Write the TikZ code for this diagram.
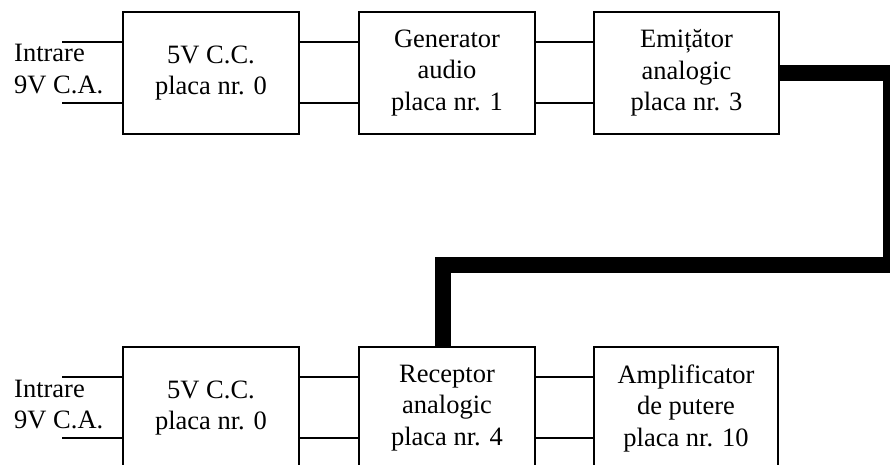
\documentclass[tikz,border=0pt]{standalone}
\usepackage{fontspec}
\setmainfont{Liberation Serif}
\begin{document}
\begin{tikzpicture}[x=1pt,y=-1pt,
  blk/.style={draw, line width=2.6pt, inner sep=0pt, outer sep=0pt, minimum height=122pt, align=center,
    font=\fontsize{26.5pt}{31.5pt}\selectfont},
  wire/.style={line width=1.8pt},
  lbl/.style={anchor=base west, inner sep=0pt, font=\fontsize{26.5pt}{31.5pt}\selectfont},
  link/.style={line width=16pt, line join=miter}]
\useasboundingbox (0,0) rectangle (890,465);
% top row
\node[blk, minimum width=176pt] (b1) at (211,73) {5V C.C.\\placa nr. 0};
\node[blk, minimum width=176pt] (b2) at (447,73) {Generator\\audio\\placa nr. 1};
\node[blk, minimum width=185pt] (b3) at (686.5,73) {Emițător\\analogic\\placa nr. 3};
% bottom row
\node[blk, minimum width=176pt] (b4) at (211,408) {5V C.C.\\placa nr. 0};
\node[blk, minimum width=176pt] (b5) at (447,408) {Receptor\\analogic\\placa nr. 4};
\node[blk, minimum width=184pt] (b6) at (686,408) {Amplificator\\de putere\\placa nr. 10};
% input labels
\node[lbl] (l1) at (14,62) {Intrare};
\node[lbl] (l2) at (14,93.5) {9V C.A.};
\node[lbl] (l3) at (14,397) {Intrare};
\node[lbl] (l4) at (14,428.5) {9V C.A.};
% input wires
\coordinate (i1) at (62,42);
\coordinate (i2) at (62,103);
\coordinate (i3) at (62,377);
\coordinate (i4) at (62,438);
\draw[wire] (i1) -- (i1 -| b1.west);
\draw[wire] (i2) -- (i2 -| b1.west);
\draw[wire] (i3) -- (i3 -| b4.west);
\draw[wire] (i4) -- (i4 -| b4.west);
% connectors between boxes
\foreach \a/\b in {b1/b2, b2/b3, b4/b5, b5/b6} {
  \draw[wire] ([yshift=-30pt]\a.north east) -- ([yshift=-30pt]\b.north west);
  \draw[wire] ([yshift=-91pt]\a.north east) -- ([yshift=-91pt]\b.north west);
}
% thick link
\coordinate (t1) at (891,73);
\coordinate (t2) at (891,264.5);
\coordinate (t3) at (442.5,264.5);
\draw[link] (b3.east) -- (t1) -- (t2) -- (t3) -- (t3 |- b5.north);
\end{tikzpicture}
\end{document}
